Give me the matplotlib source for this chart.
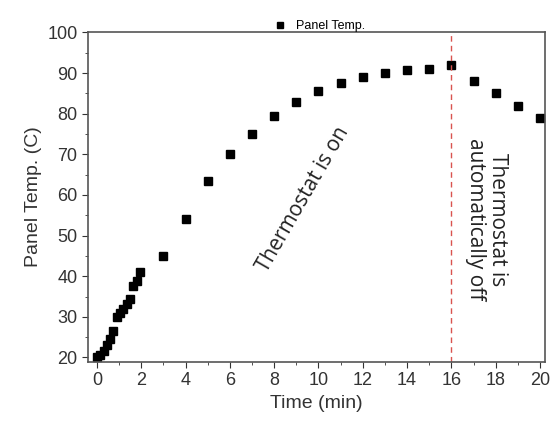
import matplotlib
matplotlib.use('Agg')
import matplotlib.pyplot as plt
from matplotlib.ticker import MultipleLocator

# panel temperature readings
time_min = [0, 0.15, 0.3, 0.45, 0.6, 0.75, 0.9, 1.05, 1.2, 1.35, 1.5, 1.65, 1.8, 1.95,
            3, 4, 5, 6, 7, 8, 9, 10, 11, 12, 13, 14, 15, 16, 17, 18, 19, 20]
panel_temp = [20, 20.7, 21.6, 23, 24.6, 26.6, 30, 31, 32, 33.2, 34.5, 37.5, 38.8, 41,
              45, 54, 63.5, 70, 75, 79.5, 83, 85.7, 87.5, 89, 90, 90.8, 91, 92, 88, 85, 82, 79]
switch_off_time = 16

plt.rcParams['font.family'] = ['Liberation Sans', 'DejaVu Sans']

fig, ax = plt.subplots(figsize=(5.5, 4.33), dpi=100)
fig.subplots_adjust(left=0.16, right=0.99, top=0.925, bottom=0.165)

ax.plot(time_min, panel_temp, 's', color='black', markersize=5.5, label='Panel Temp.')
ax.axvline(switch_off_time, color='#d9534f', linestyle=(0, (4, 3)), linewidth=1)

ax.set_xlim(-0.4, 20.2)
ax.set_ylim(19, 100)
ax.xaxis.set_major_locator(MultipleLocator(2))
ax.xaxis.set_minor_locator(MultipleLocator(1))
ax.yaxis.set_major_locator(MultipleLocator(10))
ax.yaxis.set_minor_locator(MultipleLocator(5))
ax.tick_params(which='both', direction='out', top=False, right=False, labelsize=13, colors='#333333')
ax.tick_params(which='major', length=4)
ax.tick_params(which='minor', length=2.5)
for sp in ax.spines.values():
    sp.set_color('#555555')
    sp.set_linewidth(1.2)

ax.set_xlabel('Time (min)', fontsize=14, color='#333333')
ax.set_ylabel('Panel Temp. (C)', fontsize=14, color='#333333')

ax.text(9.3, 59, 'Thermostat is on', rotation=60, fontsize=15, family=['Open Sans', 'DejaVu Sans'],
        color='#222222', ha='center', va='center')
ax.text(17.6, 54, 'Thermostat is\nautomatically off', rotation=-90, fontsize=15,
        family=['Open Sans', 'DejaVu Sans'], color='#222222', ha='center', va='center',
        linespacing=1.05)

ax.legend(loc='lower center', bbox_to_anchor=(0.5, 0.985), frameon=False, fontsize=9,
          handletextpad=0.3, markerscale=0.7, borderaxespad=0)

fig.savefig('out.png', dpi=100)
